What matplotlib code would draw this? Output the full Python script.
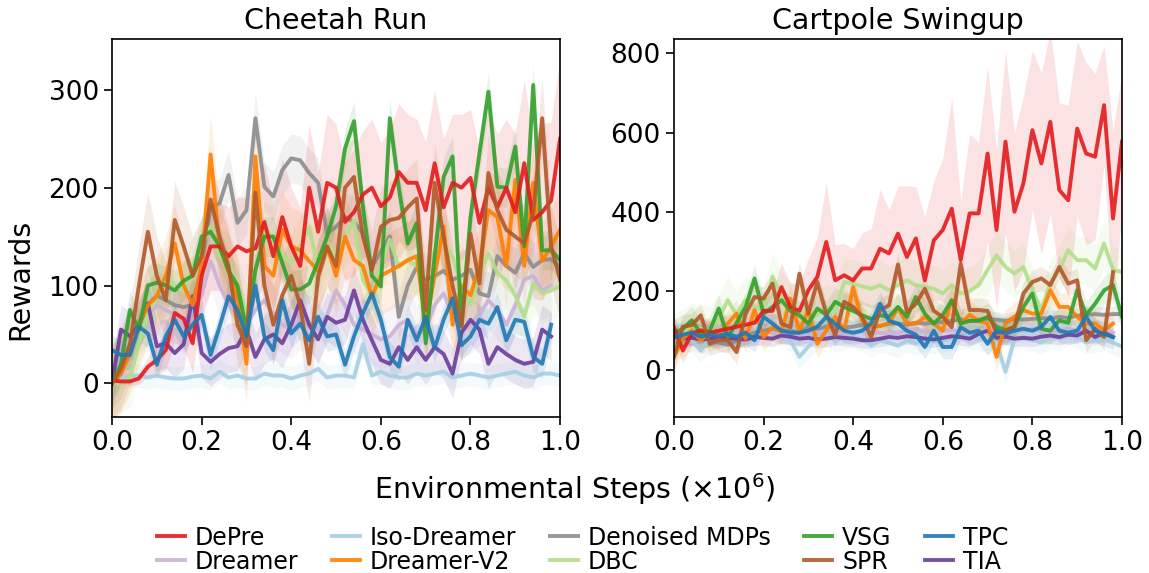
import numpy as np
import matplotlib
matplotlib.use('Agg')
import matplotlib.pyplot as plt

# steps (x1e6), 51 evaluation points
steps = np.linspace(0, 1.0, 51)

methods = ['DePre', 'Dreamer', 'Iso-Dreamer', 'Dreamer-V2', 'Denoised MDPs',
           'DBC', 'VSG', 'SPR', 'TPC', 'TIA']
colors = {'DePre': '#e31a1c', 'Dreamer': '#cab2d6', 'Iso-Dreamer': '#a6cee3',
          'Dreamer-V2': '#ff7f00', 'Denoised MDPs': '#8c8c8c', 'DBC': '#b2df8a',
          'VSG': '#33a02c', 'SPR': '#b15928', 'TPC': '#1f78b4', 'TIA': '#6a3d9a'}

# ---------------- Cheetah Run ----------------
cheetah = {
    'DePre': [3, 2, 2, 5, 17, 24, 34, 72, 66, 41, 110, 140, 140, 130, 140, 135, 138, 165, 130, 170,
              140, 120, 200, 155, 205, 200, 165, 175, 193, 200, 181, 190, 216, 205, 205, 177, 225, 180, 205, 200,
              210, 164, 200, 180, 200, 175, 225, 167, 175, 187, 250],
    'Dreamer': [0, 30, 50, 60, 70, 80, 75, 70, 60, 75, 90, 125, 100, 80, 70, 60, 75, 85, 70, 60,
                55, 65, 60, 55, 70, 95, 80, 60, 55, 50, 45, 48, 60, 65, 50, 55, 80, 92, 70, 55,
                60, 70, 85, 75, 60, 80, 106, 110, 95, 100],
    'Iso-Dreamer': [0, 5, 8, 8, 6, 8, 6, 5, 5, 7, 8, 5, 12, 6, 8, 5, 5, 10, 8, 8,
                    5, 8, 10, 15, 6, 8, 8, 6, 40, 8, 12, 8, 6, 6, 10, 8, 10, 12, 6, 8,
                    10, 8, 6, 8, 10, 12, 8, 6, 10, 10, 8],
    'Dreamer-V2': [0, 10, 30, 60, 80, 89, 110, 143, 100, 80, 120, 234, 140, 115, 89, 20, 232, 120, 110, 157,
                   140, 136, 125, 115, 140, 110, 150, 126, 120, 89, 110, 115, 120, 126, 130, 60, 110, 160, 60, 100,
                   90, 120, 177, 170, 120, 208, 120, 205, 125, 140, 157],
    'Denoised MDPs': [0, 10, 40, 60, 80, 90, 85, 80, 78, 80, 120, 180, 184, 213, 164, 177, 271, 201, 191, 218,
                      230, 228, 215, 205, 153, 160, 170, 165, 153, 119, 135, 150, 68, 100, 119, 106, 110, 115, 106, 110,
                      116, 92, 89, 130, 120, 113, 133, 119, 126, 127, 119],
    'DBC': [0, 0, 5, 40, 70, 90, 109, 100, 95, 120, 140, 160, 130, 123, 100, 70, 120, 157, 150, 130,
            123, 140, 160, 116, 143, 130, 150, 167, 106, 90, 120, 147, 119, 126, 120, 110, 135, 143, 130, 99,
            80, 110, 133, 113, 105, 90, 68, 102, 92, 95, 99],
    'VSG': [0, 20, 75, 55, 100, 103, 100, 95, 105, 110, 150, 155, 140, 115, 100, 55, 116, 150, 150, 123,
            96, 96, 102, 125, 150, 181, 240, 268, 180, 110, 99, 271, 200, 143, 164, 41, 130, 211, 232, 60,
            170, 235, 298, 201, 200, 242, 140, 305, 136, 136, 126],
    'SPR': [0, 15, 40, 100, 155, 110, 85, 167, 140, 110, 130, 188, 150, 120, 60, 38, 195, 100, 60, 90,
            110, 80, 20, 109, 140, 120, 200, 211, 150, 116, 160, 167, 169, 180, 189, 75, 205, 150, 100, 58,
            153, 102, 215, 177, 157, 150, 143, 174, 271, 140, 106],
    'TPC': [34, 29, 29, 58, 51, 19, 48, 65, 48, 60, 70, 29, 58, 89, 75, 48, 100, 48, 34, 85,
            51, 61, 44, 68, 48, 50, 19, 48, 72, 92, 65, 27, 17, 65, 44, 68, 36, 65, 87, 39,
            48, 65, 61, 78, 44, 65, 63, 27, 20, 60],
    'TIA': [0, 55, 48, 60, 82, 38, 41, 31, 40, 89, 31, 22, 30, 36, 38, 55, 27, 45, 50, 41,
            60, 85, 60, 45, 68, 62, 65, 95, 65, 44, 24, 20, 37, 24, 37, 24, 37, 30, 10, 52,
            65, 55, 20, 37, 30, 24, 20, 22, 55, 48],
}
cheetah_std = {'DePre': [3, 3, 4, 6, 10, 15, 20, 30, 30, 30, 40, 45, 45, 50, 50, 55, 60, 60, 55, 60,
                         60, 60, 65, 60, 70, 65, 60, 65, 65, 70, 65, 70, 70, 70, 65, 70, 75, 70, 70, 75,
                         70, 75, 80, 75, 70, 80, 85, 80, 90, 80, 85],
               'Dreamer': 30, 'Iso-Dreamer': 12, 'Dreamer-V2': 40,
               'Denoised MDPs': 25, 'DBC': 30, 'VSG': 20, 'SPR': 40, 'TPC': 15, 'TIA': 25}

# ---------------- Cartpole Swingup ----------------
cartpole = {
    'DePre': [109, 50, 93, 101, 95, 100, 105, 110, 115, 120, 150, 150, 210, 160, 150, 202, 236, 324, 227, 240,
              227, 257, 257, 307, 295, 345, 286, 333, 227, 328, 354, 408, 278, 396, 396, 547, 354, 577, 400, 472,
              606, 522, 627, 455, 429, 610, 547, 539, 669, 383, 577],
    'Dreamer': [95, 100, 90, 95, 100, 92, 88, 95, 90, 85, 95, 100, 92, 90, 88, 95, 100, 95, 90, 92,
                95, 100, 98, 95, 92, 95, 100, 105, 98, 95, 100, 102, 98, 95, 100, 105, 100, 98, 102, 100,
                105, 100, 98, 102, 105, 100, 98, 102, 100, 95],
    'Iso-Dreamer': [93, 85, 75, 50, 80, 85, 90, 90, 88, 95, 140, 110, 95, 75, 34, 60, 80, 90, 75, 82,
                    85, 78, 63, 75, 70, 62, 75, 70, 78, 72, 75, 80, 82, 85, 80, 75, 70, -4, 80, 85,
                    78, 70, 85, 80, 95, 85, 70, 75, 80, 70, 60],
    'Dreamer-V2': [34, 80, 101, 76, 95, 90, 118, 143, 80, 152, 84, 109, 97, 181, 100, 152, 67, 100, 135, 101,
                   210, 126, 110, 112, 118, 158, 118, 118, 135, 118, 100, 177, 118, 140, 125, 118, 34, 118, 135, 152,
                   143, 143, 202, 160, 160, 135, 118, 118, 101, 118],
    'Denoised MDPs': [90, 85, 85, 88, 80, 70, 65, 75, 85, 95, 100, 105, 100, 100, 95, 110, 105, 110, 112, 108,
                      110, 115, 110, 112, 118, 118, 115, 120, 118, 120, 122, 125, 128, 125, 128, 130, 128, 125, 130, 128,
                      130, 132, 130, 135, 132, 138, 140, 142, 140, 142, 142],
    'DBC': [84, 95, 110, 105, 100, 130, 177, 140, 177, 160, 150, 236, 189, 160, 150, 140, 140, 160, 150, 223,
            219, 212, 206, 215, 202, 215, 227, 215, 210, 206, 194, 215, 194, 200, 215, 253, 290, 261, 244, 261,
            202, 152, 219, 253, 303, 278, 278, 257, 320, 253, 248],
    'VSG': [93, 105, 126, 93, 100, 156, 84, 120, 160, 232, 143, 160, 177, 150, 139, 118, 156, 140, 173, 160,
            150, 139, 130, 139, 135, 160, 135, 185, 143, 118, 140, 177, 118, 125, 125, 135, 110, 101, 110, 160,
            194, 105, 100, 126, 120, 202, 140, 168, 202, 215, 135],
    'SPR': [34, 110, 114, 139, 67, 76, 76, 46, 143, 185, 181, 219, 118, 109, 244, 143, 223, 143, 88, 173,
            160, 135, 84, 152, 164, 267, 147, 168, 206, 150, 135, 109, 269, 152, 152, 150, 93, 100, 110, 194,
            223, 232, 215, 261, 219, 227, 76, 105, 84, 248],
    'TPC': [85, 90, 95, 85, 90, 88, 92, 85, 95, 76, 135, 118, 100, 95, 95, 100, 110, 135, 118, 100,
            95, 100, 118, 168, 125, 118, 100, 90, 59, 100, 59, 59, 109, 95, 100, 67, 100, 93, 100, 105,
            100, 110, 135, 100, 95, 100, 135, 100, 92, 84],
    'TIA': [85, 80, 82, 78, 80, 85, 82, 80, 78, 85, 82, 80, 88, 85, 80, 82, 78, 80, 84, 82,
            80, 76, 76, 80, 84, 82, 86, 84, 80, 78, 82, 86, 84, 80, 92, 100, 82, 85, 80, 82,
            80, 85, 88, 84, 90, 88, 100, 84, 95, 84],
}
cartpole_std = {'DePre': [30, 30, 30, 30, 30, 35, 35, 40, 40, 45, 50, 50, 60, 60, 70, 80, 100, 150, 90, 80,
                          80, 90, 100, 150, 110, 120, 180, 130, 160, 150, 180, 280, 150, 200, 180, 220, 200, 230, 200, 220,
                          200, 230, 230, 220, 240, 220, 230, 210, 150, 220, 180],
                'Dreamer': 25, 'Iso-Dreamer': 30, 'Dreamer-V2': 35, 'Denoised MDPs': 20,
                'DBC': 60, 'VSG': 35, 'SPR': 30, 'TPC': 30, 'TIA': 20}

draw_order = ['Dreamer', 'Iso-Dreamer', 'Denoised MDPs', 'DBC', 'TIA', 'Dreamer-V2',
              'VSG', 'DePre', 'SPR', 'TPC']

plt.rcParams['font.family'] = 'DejaVu Sans'
fig, axes = plt.subplots(1, 2, figsize=(11.49, 5.73), dpi=100)
plt.subplots_adjust(left=0.0975, right=0.9765, bottom=0.272, top=0.932, wspace=0.254)

panels = [(axes[0], 'Cheetah Run', cheetah, cheetah_std, (-34.5, 352), [0, 100, 200, 300]),
          (axes[1], 'Cartpole Swingup', cartpole, cartpole_std, (-118, 836), [0, 200, 400, 600, 800])]

lines = {}
for ax, title, data, std, ylim, yt in panels:
    for m in draw_order:
        y = np.array(data[m], dtype=float)
        x = steps[:len(y)]
        s = np.array(std[m], dtype=float) if np.ndim(std[m]) else np.full(len(y), std[m])
        ax.fill_between(x, y - s, y + s, color=colors[m], alpha=0.12, linewidth=0)
        ln, = ax.plot(x, y, color=colors[m], lw=2.8, alpha=0.9, label=m)
        lines[m] = ln
    ax.set_title(title, fontsize=20.5, pad=7)
    ax.set_xlim(0, 1.0)
    ax.set_ylim(*ylim)
    ax.set_yticks(yt)
    ax.set_xticks([0, 0.2, 0.4, 0.6, 0.8, 1.0])
    ax.set_xticklabels(['0.0', '0.2', '0.4', '0.6', '0.8', '1.0'])
    ax.tick_params(labelsize=19, length=6, width=1.2)
    for sp in ax.spines.values():
        sp.set_linewidth(1.2)

fig.text(0.0175, 0.513, 'Rewards', rotation=90, ha='center', va='center', fontsize=20.5)
fig.text(0.5, 0.147, r'Environmental Steps ($\times10^6$)', ha='center', va='center', fontsize=20.5)

fig.legend([lines[m] for m in methods], methods, loc='center', bbox_to_anchor=(0.507, 0.041),
           ncol=5, frameon=False, fontsize=17, handlelength=1.2, handletextpad=0.42,
           columnspacing=1.4, labelspacing=0.0, borderpad=0.1)

plt.savefig('out.png', dpi=100)
